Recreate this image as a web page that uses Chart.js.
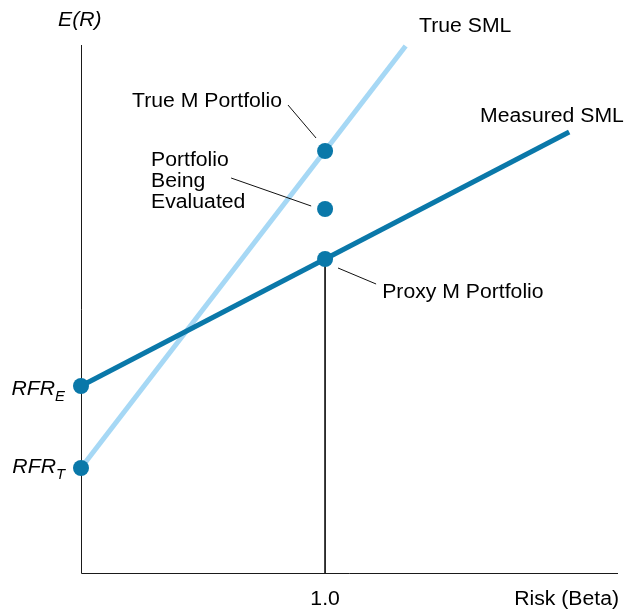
<!DOCTYPE html>
<html>
<head>
<meta charset="utf-8">
<script src="https://cdn.jsdelivr.net/npm/chart.js@4"></script>
<style>
  body { margin: 0; background: #fff; }
  #wrap { width: 628px; height: 615px; }
</style>
</head>
<body>
<div id="wrap"><canvas id="smlChart"></canvas></div>
<script>
// values (beta on x, expected return on y, arbitrary units)
const trueSmlBeta = [0, 1.33];
const trueSmlReturn = [1.05, 5.27];
const measuredSmlBeta = [0, 2.0];
const measuredSmlReturn = [1.87, 4.41];
const pointNames = ["RFR_T", "RFR_E", "True M", "Evaluated", "Proxy M"];
const pointBeta = [0, 0, 1.0, 1.0, 1.0];
const pointReturn = [1.05, 1.87, 4.22, 3.64, 3.14];
const xTickValues = [1.0];
const xTickLabels = ["1.0"];

const DARK = "#0a78a9";
const LIGHT = "#a6d8f5";
const FONT = '"Liberation Sans", Arial, Helvetica, sans-serif';
const H = 1.06; // the source text is a bit wider than Arial

// callout text, anchored in data units (left edge, first baseline)
const callouts = [
  { lines: ["True M Portfolio"], x: 0.209, y: 4.66 },
  { lines: ["Portfolio", "Being", "Evaluated"], x: 0.287, y: 4.07 },
  { lines: ["Proxy M Portfolio"], x: 1.234, y: 2.75 },
  { lines: ["True SML"], x: 1.385, y: 5.41 },
  { lines: ["Measured SML"], x: 1.635, y: 4.51 },
];
// leader lines from callouts to their points
const leaders = [
  [[0.848, 4.68], [0.963, 4.35]],
  [[0.615, 3.95], [0.943, 3.67]],
  [[1.053, 3.05], [1.209, 2.89]],
];
const rfrLabels = [
  { main: "RFR", sub: "T", y: 1.0 },
  { main: "RFR", sub: "E", y: 1.78 },
];

function xy(xs, ys) {
  return xs.map((x, i) => ({ x: x, y: ys[i] }));
}

function wideText(ctx, str, x, y, align) {
  ctx.save();
  ctx.translate(x, y);
  ctx.scale(H, 1);
  ctx.textAlign = align || "left";
  ctx.fillText(str, 0, 0);
  ctx.restore();
}

const annotate = {
  id: "annotate",
  beforeDatasetsDraw(chart) {
    const ctx = chart.ctx;
    const xs = chart.scales.x;
    const ys = chart.scales.y;
    const x0 = xs.getPixelForValue(0);
    const y0 = ys.getPixelForValue(0);
    ctx.save();
    ctx.strokeStyle = "#1a1a1a";
    ctx.lineWidth = 1;
    ctx.beginPath();
    ctx.moveTo(x0 + 0.5, ys.getPixelForValue(ys.max));
    ctx.lineTo(x0 + 0.5, y0 + 0.5);
    ctx.lineTo(xs.getPixelForValue(xs.max), y0 + 0.5);
    ctx.stroke();
    ctx.restore();
  },
  afterDraw(chart) {
    const ctx = chart.ctx;
    const xs = chart.scales.x;
    const ys = chart.scales.y;
    const area = chart.chartArea;
    ctx.save();
    ctx.fillStyle = "#000";
    ctx.strokeStyle = "#111";
    ctx.lineWidth = 1;
    ctx.textBaseline = "alphabetic";

    // leaders
    leaders.forEach((l) => {
      ctx.beginPath();
      ctx.moveTo(xs.getPixelForValue(l[0][0]), ys.getPixelForValue(l[0][1]));
      ctx.lineTo(xs.getPixelForValue(l[1][0]), ys.getPixelForValue(l[1][1]));
      ctx.stroke();
    });

    // callouts
    ctx.font = "20px " + FONT;
    callouts.forEach((c) => {
      const px = xs.getPixelForValue(c.x);
      const py = ys.getPixelForValue(c.y);
      c.lines.forEach((line, i) => wideText(ctx, line, px, py + i * 21));
    });

    // axis titles
    ctx.font = "italic 20px " + FONT;
    wideText(ctx, "E(R)", area.left - 23, area.top - 19);
    ctx.font = "20px " + FONT;
    wideText(ctx, "Risk (Beta)", area.right + 1, area.bottom + 32, "right");
    xTickValues.forEach((v, i) => {
      wideText(ctx, xTickLabels[i], xs.getPixelForValue(v), area.bottom + 32, "center");
    });

    // risk-free labels with subscripts
    rfrLabels.forEach((r) => {
      const right = area.left - 16;
      const py = ys.getPixelForValue(r.y);
      ctx.font = "italic 14px " + FONT;
      const subW = ctx.measureText(r.sub).width * H;
      wideText(ctx, r.sub, right - subW, py + 6);
      ctx.font = "italic 20px " + FONT;
      wideText(ctx, r.main, right - subW, py, "right");
    });
    ctx.restore();
  },
};

new Chart(document.getElementById("smlChart").getContext("2d"), {
  type: "scatter",
  data: {
    datasets: [
      {
        label: "Points",
        data: xy(pointBeta, pointReturn),
        backgroundColor: DARK,
        borderColor: DARK,
        pointRadius: 8,
        pointHoverRadius: 8,
        borderWidth: 0,
        order: 0,
        clip: false,
      },
      {
        label: "Measured SML",
        type: "line",
        data: xy(measuredSmlBeta, measuredSmlReturn),
        borderColor: DARK,
        borderWidth: 5,
        pointRadius: 0,
        order: 1,
        clip: false,
      },
      {
        label: "True SML",
        type: "line",
        data: xy(trueSmlBeta, trueSmlReturn),
        borderColor: LIGHT,
        borderWidth: 5,
        pointRadius: 0,
        order: 2,
        clip: false,
      },
      {
        label: "Beta 1.0",
        type: "line",
        data: [
          { x: pointBeta[4], y: pointReturn[4] },
          { x: pointBeta[4], y: 0 },
        ],
        borderColor: "#1a1a1a",
        borderWidth: 1,
        pointRadius: 0,
        order: 3,
        clip: false,
      },
    ],
  },
  options: {
    responsive: true,
    maintainAspectRatio: false,
    animation: false,
    layout: { padding: { left: 81, right: 10, top: 45, bottom: 42 } },
    plugins: {
      legend: { display: false },
      tooltip: { enabled: false },
    },
    scales: {
      x: { type: "linear", min: 0, max: 2.2, display: false },
      y: { type: "linear", min: 0, max: 5.28, display: false },
    },
  },
  plugins: [annotate],
});
</script>
</body>
</html>
